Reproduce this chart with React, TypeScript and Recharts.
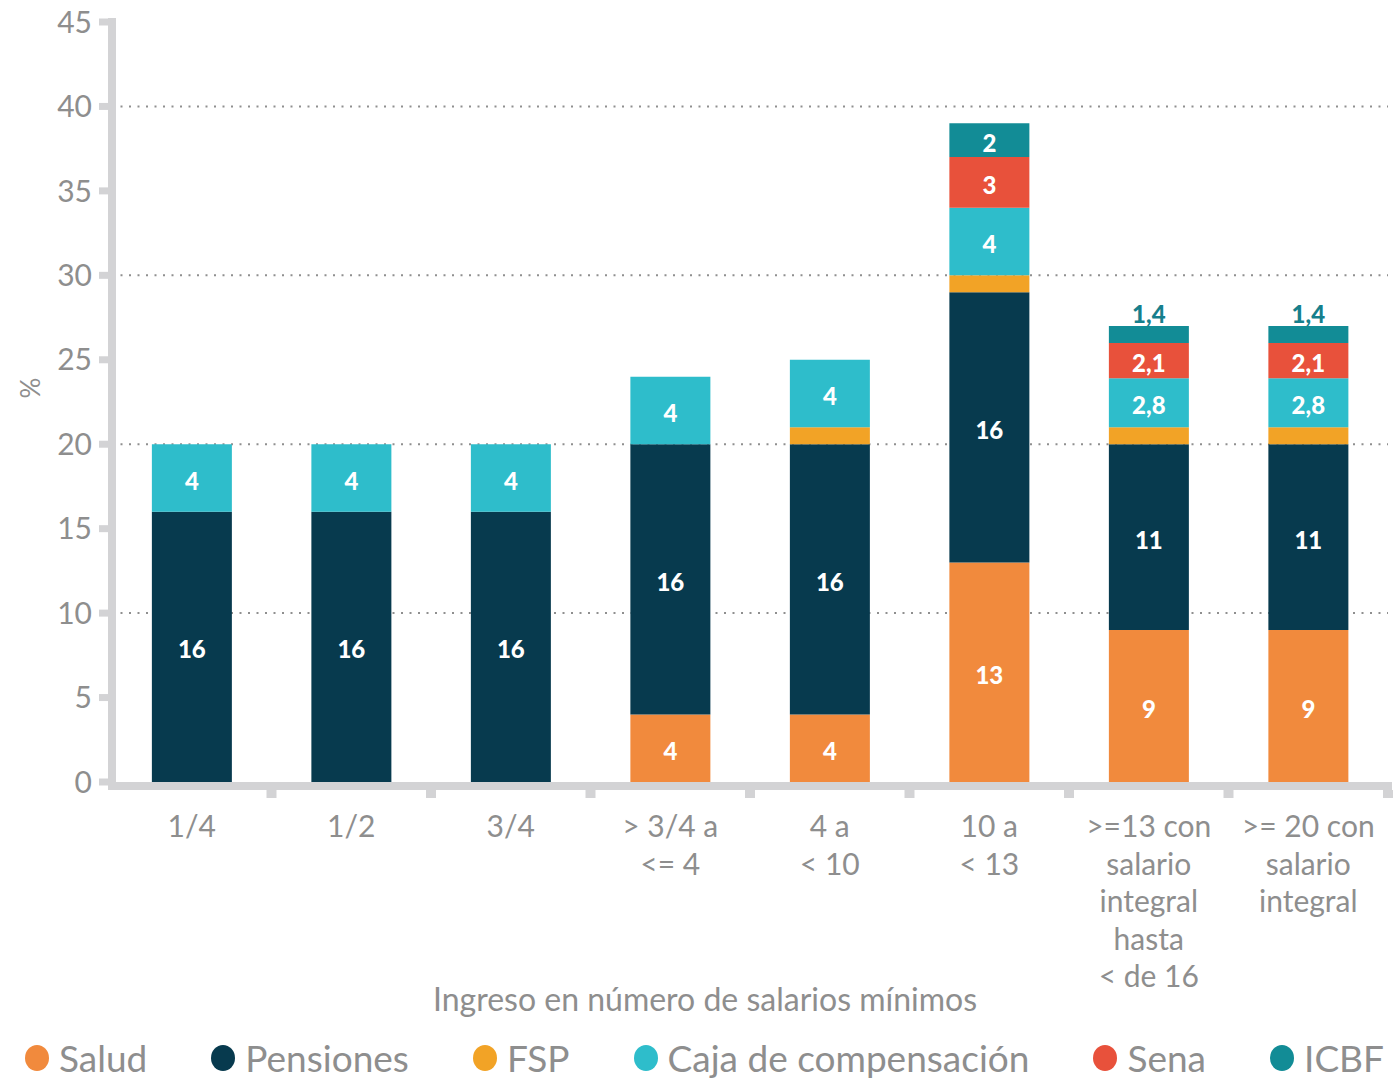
import React from 'react';
import { BarChart, Bar, XAxis, YAxis, CartesianGrid, Legend, LabelList, Label } from 'recharts';

const categories = [
  '1/4',
  '1/2',
  '3/4',
  '> 3/4 a\n<= 4',
  '4 a\n< 10',
  '10 a\n< 13',
  '>=13 con\nsalario\nintegral\nhasta\n< de 16',
  '>= 20 con\nsalario\nintegral',
];

const salud = [0, 0, 0, 4, 4, 13, 9, 9];
const pensiones = [16, 16, 16, 16, 16, 16, 11, 11];
const fsp = [0, 0, 0, 0, 1, 1, 1, 1];
const caja = [4, 4, 4, 4, 4, 4, 2.9, 2.9];
const sena = [0, 0, 0, 0, 0, 3, 2.1, 2.1];
const icbf = [0, 0, 0, 0, 0, 2, 1, 1];

const saludLabels = ['', '', '', '4', '4', '13', '9', '9'];
const pensionesLabels = ['16', '16', '16', '16', '16', '16', '11', '11'];
const cajaLabels = ['4', '4', '4', '4', '4', '4', '2,8', '2,8'];
const senaLabels = ['', '', '', '', '', '3', '2,1', '2,1'];
const icbfLabels = ['', '', '', '', '', '2', '1,4', '1,4'];

const yTicks = [0, 5, 10, 15, 20, 25, 30, 35, 40, 45];
const gridValues = [10, 20, 30, 40];

const seriesNames = ['Salud', 'Pensiones', 'FSP', 'Caja de compensación', 'Sena', 'ICBF'];
const seriesKeys = ['salud', 'pensiones', 'fsp', 'caja', 'sena', 'icbf'];
const seriesColors = ['#F18A3D', '#073A4E', '#F2A326', '#2EBDCB', '#E8513B', '#128C96'];

const yAxisTitle = '%';
const xAxisTitle = 'Ingreso en número de salarios mínimos';

const rows = categories.map((cat, i) => ({
  cat,
  salud: salud[i],
  pensiones: pensiones[i],
  fsp: fsp[i],
  caja: caja[i],
  sena: sena[i],
  icbf: icbf[i],
  saludLabel: saludLabels[i],
  pensionesLabel: pensionesLabels[i],
  cajaLabel: cajaLabels[i],
  senaLabel: senaLabels[i],
  icbfLabel: icbfLabels[i],
}));

const FONT = 'Lato, "Open Sans", sans-serif';
const GRAY_TEXT = '#8e8e8e';
const AXIS_GRAY = '#d3d3d5';
const W = 1394;
const H = 1078;
const LEFT = 112;
const RIGHT = 6;
const BAND = (W - LEFT - RIGHT) / categories.length;

const renderInside = (props: any) => {
  const { x, y, width, height, value } = props;
  if (!value) return null;
  const cx = Number(x) + Number(width) / 2;
  if (Number(height) < 20) {
    return (
      <text x={cx} y={Number(y) - 13} textAnchor="middle" dominantBaseline="central"
        fill="#167f8c" fontSize={24} fontWeight={900} fontFamily={FONT}>{value}</text>
    );
  }
  return (
    <text x={cx} y={Number(y) + Number(height) / 2 + 2} textAnchor="middle" dominantBaseline="central"
      fill="#ffffff" fontSize={24} fontWeight={900} fontFamily={FONT}>{value}</text>
  );
};

const XTick = (props: any) => {
  const { x, y, payload } = props;
  const lines = String(payload.value).split('\n');
  return (
    <g>
      <rect x={x + BAND / 2 - 5} y={y + 8} width={10} height={8} fill={AXIS_GRAY} />
      {lines.map((ln, i) => (
        <text key={i} x={x} y={y + 55 + i * 37.5} textAnchor="middle" fill={GRAY_TEXT}
          fontSize={30} fontFamily={FONT}>{ln}</text>
      ))}
    </g>
  );
};

const YAxisDecor = (props: any) => {
  const vb = props.viewBox || {};
  const cy = vb.y + vb.height / 2 - 14;
  return (
    <g>
      <rect x={LEFT - 4} y={vb.y - 4} width={8} height={vb.height + 12} fill={AXIS_GRAY} />
      <text x={30} y={cy} transform={`rotate(-90, 30, ${cy})`}
        textAnchor="middle" dominantBaseline="central" fill={GRAY_TEXT} fontSize={26} fontFamily={FONT}>{yAxisTitle}</text>
    </g>
  );
};

const XAxisDecor = (props: any) => {
  const vb = props.viewBox || {};
  return (
    <g>
      <rect x={vb.x - 4} y={vb.y} width={vb.width + 8} height={8} fill={AXIS_GRAY} />
      <text x={705} y={vb.y + 229} textAnchor="middle" fill={GRAY_TEXT} fontSize={32} fontFamily={FONT}>{xAxisTitle}</text>
    </g>
  );
};

const LegendContent = () => (
  <div style={{ display: 'flex', justifyContent: 'space-between', alignItems: 'center', height: 44, fontFamily: FONT }}>
    {seriesNames.map((name, i) => (
      <div key={name} style={{ display: 'flex', alignItems: 'center' }}>
        <svg width={26} height={30} style={{ marginRight: 9 }}>
          <ellipse cx={13} cy={15} rx={12} ry={13} fill={seriesColors[i]} />
        </svg>
        <span style={{ fontSize: 37, color: GRAY_TEXT, lineHeight: '44px' }}>{name}</span>
      </div>
    ))}
  </div>
);

export default function App() {
  return (
    <div style={{ position: 'absolute', left: 0, top: 0, width: W, height: H, background: '#fff' }}>
      <BarChart width={W} height={H} data={rows} margin={{ top: 22, right: RIGHT, left: 0, bottom: 0 }}
        barCategoryGap="25%">
        <CartesianGrid vertical={false} horizontalValues={gridValues} stroke="#8f8f8f"
          strokeWidth={2} strokeDasharray="2 6.5" />
        <XAxis dataKey="cat" height={H - 782} interval={0} tickSize={0} tickMargin={0}
          axisLine={false} tickLine={false} tick={<XTick />}>
          <Label content={<XAxisDecor />} />
        </XAxis>
        <YAxis width={LEFT} domain={[0, 45]} ticks={yTicks} interval={0} axisLine={false}
          tickSize={13} tickMargin={7} tickLine={{ stroke: AXIS_GRAY, strokeWidth: 7 }}
          tick={{ fill: GRAY_TEXT, fontSize: 30, fontFamily: FONT }}>
          <Label content={<YAxisDecor />} />
        </YAxis>
        <Legend layout="horizontal" verticalAlign="middle" content={<LegendContent />}
          wrapperStyle={{ top: 1036, left: 24, width: 1360, height: 44 }} />
        {seriesKeys.map((k, i) => (
          <Bar key={k} dataKey={k} name={seriesNames[i]} stackId="a" fill={seriesColors[i]} isAnimationActive={false}>
            {k === 'salud' && <LabelList dataKey="saludLabel" content={renderInside} />}
            {k === 'pensiones' && <LabelList dataKey="pensionesLabel" content={renderInside} />}
            {k === 'caja' && <LabelList dataKey="cajaLabel" content={renderInside} />}
            {k === 'sena' && <LabelList dataKey="senaLabel" content={renderInside} />}
            {k === 'icbf' && <LabelList dataKey="icbfLabel" content={renderInside} />}
          </Bar>
        ))}
      </BarChart>
    </div>
  );
}
